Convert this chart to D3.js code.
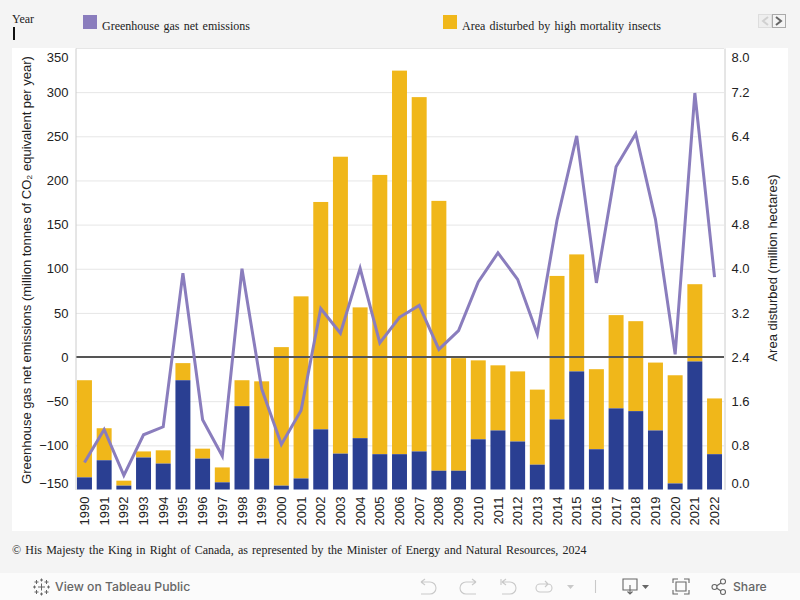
<!DOCTYPE html>
<html>
<head>
<meta charset="utf-8">
<script src="https://cdnjs.cloudflare.com/ajax/libs/d3/7.8.5/d3.min.js"></script>
<style>
html, body { margin: 0; padding: 0; background: #f4f4f4; overflow: hidden; }
svg { display: block; }
.tick text { font-family: "Liberation Sans", Arial, sans-serif; font-size: 13px; fill: #222; }
.serif { font-family: "Liberation Serif", "Times New Roman", serif; font-size: 12px; fill: #222; word-spacing: 1.2px; }
.title { font-family: "Liberation Sans", Arial, sans-serif; font-size: 13px; fill: #222; }
.tool { font-family: "Inter", "Noto Sans", sans-serif; font-size: 12.2px; font-weight: 500; fill: #666; }
.icon { fill: none; stroke: #666; stroke-width: 1.1; }
.icon.off { stroke: #c9c9c9; }
</style>
</head>
<body>
<svg id="chart" width="800" height="600"></svg>
<script>
var years = d3.range(1990, 2023);

// million hectares, right axis
var otherArea = [0.22, 0.53, 0.07, 0.58, 0.47, 1.98, 0.56, 0.13, 1.51, 0.56, 0.07, 0.20, 1.09, 0.65, 0.93, 0.64, 0.64,
    0.69, 0.34, 0.34, 0.91, 1.07, 0.87, 0.45, 1.27, 2.14, 0.73, 1.47, 1.42, 1.07, 0.11, 2.32, 0.64];
var insectArea = [1.76, 0.58, 0.09, 0.11, 0.24, 0.31, 0.18, 0.27, 0.47, 1.40, 2.51, 3.30, 4.12, 5.38, 2.37, 5.06, 6.95,
    6.42, 4.89, 2.04, 1.43, 1.18, 1.27, 1.36, 2.60, 2.12, 1.45, 1.69, 1.63, 1.23, 1.96, 1.40, 1.01];

// million tonnes CO2e, left axis
var emissions = [-119.5, -82, -134, -88, -79, 95, -71, -112, 100, -36, -99, -60.5, 55, 27, 100.5, 16, 45,
    58.5, 8.7, 30, 85, 118, 88, 26, 155, 250.5, 84, 215.5, 253, 156, 3, 299, 90.5];

var leftTicks = [-150, -100, -50, 0, 50, 100, 150, 200, 250, 300, 350];
var rightTicks = [0, 0.8, 1.6, 2.4, 3.2, 4, 4.8, 5.6, 6.4, 7.2, 8];
var legendLabels = ["Greenhouse gas net emissions", "Area disturbed by high mortality insects"];

var blue = "#2a3f92", yellow = "#f0b71a", purple = "#8a7dbd";

var svg = d3.select("#chart");
var plotLeft = 76, plotRight = 724, plotTop = 48, plotBottom = 489.5;

var x = d3.scaleBand().domain(years).range([plotLeft, plotRight - 1]).paddingInner(0.24).paddingOuter(0.05);
var yLeft = d3.scaleLinear().domain([-150, 350]).range([plotBottom, plotTop]);
var yRight = d3.scaleLinear().domain([0, 8]).range([plotBottom, plotTop]);

// panels
svg.append("rect").attr("x", 12).attr("y", 48).attr("width", 776).attr("height", 483).attr("fill", "#fff");
svg.append("rect").attr("x", 0).attr("y", 573).attr("width", 800).attr("height", 27).attr("fill", "#fbfbfb");

// gridlines
svg.append("g").selectAll("line")
    .data(leftTicks.slice(1))
    .enter().append("line")
    .attr("x1", plotLeft).attr("x2", plotRight)
    .attr("y1", function(d){ return yLeft(d) + 0.5; })
    .attr("y2", function(d){ return yLeft(d) + 0.5; })
    .attr("stroke", function(d){ return d === 0 ? "none" : "#e6e6e6"; })
    .attr("stroke-width", 1);

// stacked bars
svg.append("g").selectAll("rect")
    .data(years)
    .enter().append("rect")
    .attr("x", function(d){ return x(d); })
    .attr("width", x.bandwidth())
    .attr("y", function(d, i){ return yRight(otherArea[i] + insectArea[i]); })
    .attr("height", function(d, i){ return yRight(0) - yRight(insectArea[i]); })
    .attr("fill", yellow);

svg.append("g").selectAll("rect")
    .data(years)
    .enter().append("rect")
    .attr("x", function(d){ return x(d); })
    .attr("width", x.bandwidth())
    .attr("y", function(d, i){ return yRight(otherArea[i]); })
    .attr("height", function(d, i){ return yRight(0) - yRight(otherArea[i]); })
    .attr("fill", blue);

// zero line
svg.append("line")
    .attr("x1", plotLeft).attr("x2", plotRight)
    .attr("y1", yLeft(0)).attr("y2", yLeft(0))
    .attr("stroke", "#555").attr("stroke-width", 2);

// emissions line
var line = d3.line()
    .x(function(d, i){ return x(years[i]) + x.bandwidth() / 2; })
    .y(function(d){ return yLeft(d); });

svg.append("path")
    .datum(emissions)
    .attr("d", line)
    .attr("fill", "none")
    .attr("stroke", purple)
    .attr("stroke-width", 3);

// axes
var leftAxis = svg.append("g")
    .attr("transform", "translate(" + (plotLeft - 0.5) + ",0)")
    .call(d3.axisLeft(yLeft).tickValues(leftTicks).tickSize(0).tickPadding(7).tickFormat(d3.format("d")));
var rightAxis = svg.append("g")
    .attr("transform", "translate(" + (plotRight + 0.5) + ",0)")
    .call(d3.axisRight(yRight).tickValues(rightTicks).tickSize(0).tickPadding(7).tickFormat(d3.format(".1f")));
var bottomAxis = svg.append("g")
    .attr("transform", "translate(0," + plotBottom + ")")
    .call(d3.axisBottom(x).tickSize(0).tickPadding(0));

[leftAxis, rightAxis].forEach(function(axis){
    axis.select(".domain").attr("stroke", "#ccc").attr("stroke-width", 1);
    // end labels get pulled inside the plot
    axis.selectAll(".tick text").filter(function(d, i){ return i === 0; }).attr("y", -6);
    axis.selectAll(".tick text").filter(function(d, i){ return i === 10; }).attr("y", 9);
});
bottomAxis.select(".domain").remove();
bottomAxis.selectAll(".tick text")
    .attr("transform", "rotate(-90)")
    .attr("text-anchor", "end")
    .attr("x", -7)
    .attr("y", 0)
    .attr("dy", "0.35em");

// axis titles
svg.append("text").attr("class", "title")
    .attr("transform", "translate(31,270) rotate(-90)")
    .attr("text-anchor", "middle")
    .text("Greenhouse gas net emissions (million tonnes of CO\u2082 equivalent per year)");
svg.append("text").attr("class", "title")
    .attr("transform", "translate(777,268) rotate(-90)")
    .attr("text-anchor", "middle")
    .text("Area disturbed (million hectares)");

// header
svg.append("text").attr("class", "serif").attr("x", 12).attr("y", 23).style("word-spacing", "0").text("Year");
svg.append("rect").attr("x", 13).attr("y", 27).attr("width", 2).attr("height", 13).attr("fill", "#111");

var legend = svg.append("g").selectAll("g")
    .data(legendLabels)
    .enter().append("g")
    .attr("transform", function(d, i){ return "translate(" + (i === 0 ? 83 : 443) + ",15)"; });
legend.append("rect").attr("width", 14).attr("height", 14)
    .attr("fill", function(d, i){ return i === 0 ? purple : yellow; });
legend.append("text").attr("class", "serif").attr("x", 19).attr("y", 15).text(function(d){ return d; });

// pager buttons
svg.append("rect").attr("x", 758.5).attr("y", 14.5).attr("width", 13).attr("height", 13).attr("fill", "#eee").attr("stroke", "#ddd");
svg.append("rect").attr("x", 772.5).attr("y", 14.5).attr("width", 13).attr("height", 13).attr("fill", "#f4f4f4").attr("stroke", "#aaa");
svg.append("path").attr("d", "M768 17 L763 21 L768 25").attr("fill", "none").attr("stroke", "#d0d0d0").attr("stroke-width", 2);
svg.append("path").attr("d", "M776 17 L781 21 L776 25").attr("fill", "none").attr("stroke", "#666").attr("stroke-width", 2);

// footer
svg.append("text").attr("class", "serif").attr("x", 12).attr("y", 554)
    .text("\u00a9 His Majesty the King in Right of Canada, as represented by the Minister of Energy and Natural Resources, 2024");

// toolbar
var logo = svg.append("g").attr("transform", "translate(41.5,587)").attr("stroke", "#666").attr("stroke-width", 1);
[[0, 0, 3.5], [-5, -5, 2], [5, -5, 2], [-5, 5, 2], [5, 5, 2], [0, -7, 1.5], [0, 7, 1.5], [-7, 0, 1.5], [7, 0, 1.5]].forEach(function(p){
    logo.append("path").attr("d", "M" + (p[0] - p[2]) + " " + p[1] + "H" + (p[0] + p[2]) + "M" + p[0] + " " + (p[1] - p[2]) + "V" + (p[1] + p[2]));
});
svg.append("text").attr("class", "tool").attr("x", 55).attr("y", 591).text("View on Tableau Public");
svg.append("text").attr("class", "tool").attr("x", 733).attr("y", 591).text("Share");

var icons = [
    ["off", "M421 582 H430 A6 6 0 0 1 430 594 H421 M421 582 L425 579 M421 582 L425 585"],
    ["off", "M476 582 H466 A6 6 0 0 0 466 594 H476 M476 582 L472 579 M476 582 L472 585"],
    ["off", "M502 582 H510 A6 6 0 0 1 510 594 H502 M502 582 L506 579 M502 582 L506 585 M501 579 V585"],
    ["off", "M540 584 H548 A4 4 0 0 1 548 592 H540 A4 4 0 0 1 540 584 M548 584 L545 581 M548 584 L545 587"],
    ["off", "M595.5 580 V593"],
    ["", "M623 579 H637 V590 H623 Z M630 585 V594 M627.5 591.5 L630 594 L632.5 591.5"],
    ["", "M673 583 V579 H678 M684 579 H689 V583 M673 590 V594 H678 M684 594 H689 V590 M676 582 H686 V591 H676 Z"],
    ["", "M716.5 586 L721 583 M716.5 588 L721 591"]
];
svg.append("g").selectAll("path")
    .data(icons)
    .enter().append("path")
    .attr("class", function(d){ return "icon " + d[0]; })
    .attr("d", function(d){ return d[1]; });
[[714.5, 587], [723, 581.5], [723, 592]].forEach(function(c){
    svg.append("circle").attr("class", "icon").attr("cx", c[0]).attr("cy", c[1]).attr("r", 2.5);
});
[[567, 585, "#c9c9c9"], [642, 585, "#666"]].forEach(function(c){
    svg.append("path").attr("d", "M" + c[0] + " " + c[1] + "h7l-3.5 4z").attr("fill", c[2]);
});
</script>
</body>
</html>
